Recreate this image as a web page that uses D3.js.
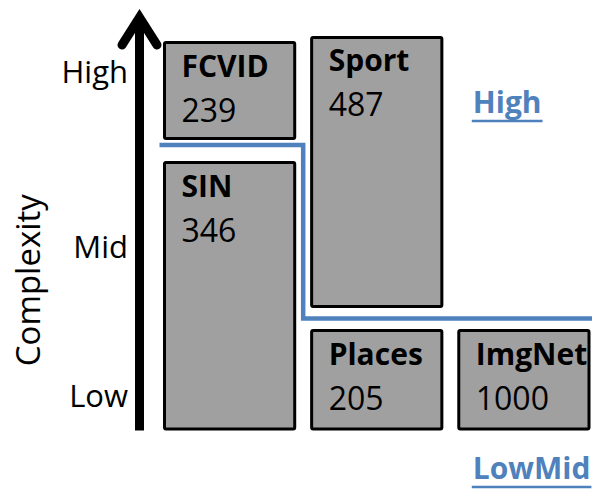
<!DOCTYPE html>
<html>
<head>
<meta charset="utf-8">
<script src="https://cdn.jsdelivr.net/npm/d3@7"></script>
<style>
  body { margin: 0; background: #fff; }
  svg { display: block; font-family: 'Open Sans', sans-serif; }
</style>
</head>
<body>
<div class="graph"></div>
<script>
// datasets, their number of classes and where they sit on the complexity axis
const datasets = ['FCVID', 'SIN', 'Sport', 'Places', 'ImgNet'];
const classCounts = [239, 346, 487, 205, 1000];
const columnOf = ['c1', 'c1', 'c2', 'c2', 'c3'];
const complexityLow = [7.26, 0, 3.06, 0, 0];
const complexityHigh = [9.66, 6.66, 9.79, 2.46, 2.46];

const tickValues = [0.81, 4.53, 8.9];
const tickLabels = ['Low', 'Mid', 'High'];

// the split between the two groups
const splitHigh = 7.1, splitLow = 2.76;
const groupNames = ['High', 'LowMid'];
const groupLabelAt = [7.9, -1.25];

const width = 592, height = 489;
const blue = '#4f81bd';

const svg = d3.select('.graph').append('svg')
    .attr('width', width)
    .attr('height', height);

const x = d3.scaleBand()
    .domain(['c1', 'c2', 'c3'])
    .range([164.5, 589])
    .paddingInner(0.115);

const y = d3.scaleLinear()
    .domain([0, 10.5])
    .range([429, 9]);

const records = datasets.map((name, i) => ({
  name, count: classCounts[i], col: columnOf[i],
  lo: complexityLow[i], hi: complexityHigh[i]
}));

// boxes
const box = svg.selectAll('.box')
  .data(records)
  .enter().append('g')
    .attr('class', 'box');

box.append('rect')
    .attr('x', d => x(d.col))
    .attr('y', d => y(d.hi))
    .attr('width', x.bandwidth())
    .attr('height', d => y(d.lo) - y(d.hi))
    .attr('rx', 1.5)
    .attr('fill', '#a0a0a0')
    .attr('stroke', '#000')
    .attr('stroke-width', 3);

box.append('text')
    .attr('x', d => x(d.col) + 17)
    .attr('y', d => y(d.hi) + 34)
    .attr('font-size', 30)
    .attr('font-weight', 'bold')
    .text(d => d.name);

box.append('text')
    .attr('x', d => x(d.col) + 17)
    .attr('y', d => y(d.hi) + 79)
    .attr('font-size', 32)
    .text(d => d.count);

// group boundary
const gap = x.step() - x.bandwidth();
const midGap = x('c2') - gap / 2;
const boundary = [
  [x.range()[0] - 5, splitHigh],
  [midGap, splitHigh],
  [midGap, splitLow],
  [width + 10, splitLow]
];

svg.append('path')
    .datum(boundary)
    .attr('fill', 'none')
    .attr('stroke', blue)
    .attr('stroke-width', 4.5)
    .attr('d', d3.line().x(d => d[0]).y(d => y(d[1])));

// group labels, underlined
groupNames.forEach((name, i) => {
  const t = svg.append('text')
      .attr('x', x('c3') + 14)
      .attr('y', y(groupLabelAt[i]))
      .attr('font-size', 30)
      .attr('font-weight', 'bold')
      .attr('fill', blue)
      .text(name);
  const len = t.node().getComputedTextLength();
  svg.append('line')
      .attr('x1', x('c3') + 13)
      .attr('x2', x('c3') + 15 + len)
      .attr('y1', y(groupLabelAt[i]) + 8)
      .attr('y2', y(groupLabelAt[i]) + 8)
      .attr('stroke', blue)
      .attr('stroke-width', 2.5);
});

// complexity axis with arrow
const axisX = 139;
const yAxis = d3.axisLeft(y)
    .tickValues(tickValues)
    .tickFormat((d, i) => tickLabels[i])
    .tickSize(0)
    .tickPadding(11);

const axis = svg.append('g')
    .attr('transform', 'translate(' + axisX + ',0)')
    .call(yAxis)
    .attr('font-family', "'Open Sans', sans-serif")
    .attr('font-size', 31);

axis.select('.domain')
    .attr('d', 'M0.5,' + (y(0) + 1.5) + 'V' + y(10.2))
    .attr('stroke', '#000')
    .attr('stroke-width', 9);

axis.selectAll('.tick text').attr('fill', '#000');

axis.append('path')
    .attr('d', 'M-17,' + y(9.6) + 'L0.5,' + y(10.29) + 'L18,' + y(9.6))
    .attr('fill', 'none')
    .attr('stroke', '#000')
    .attr('stroke-width', 9)
    .attr('stroke-linecap', 'round')
    .attr('stroke-linejoin', 'miter');

svg.append('text')
    .attr('transform', 'translate(40,' + y(3.72) + ') rotate(-90)')
    .attr('text-anchor', 'middle')
    .attr('font-size', 33)
    .text('Complexity');
</script>
</body>
</html>
